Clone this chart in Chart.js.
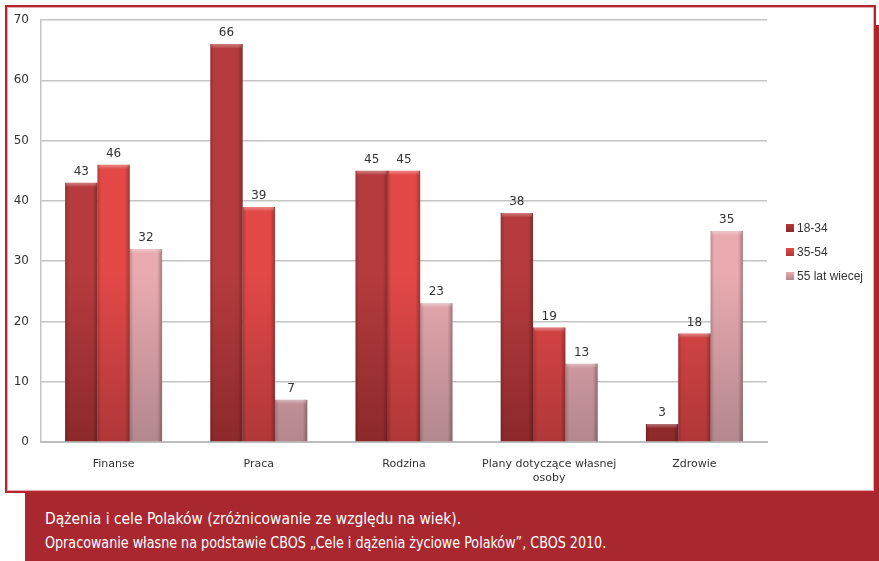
<!DOCTYPE html>
<html lang="pl">
<head>
<meta charset="utf-8">
<script src="https://cdn.jsdelivr.net/npm/chart.js@4.4.1/dist/chart.umd.min.js"></script>
<style>
  html, body { margin: 0; padding: 0; background: #ffffff; }
  body { width: 879px; height: 561px; position: relative; overflow: hidden; }
  #frame {
    position: absolute; left: 5px; top: 5px; width: 867px; height: 484px;
    border: 2px solid #b3262d; box-shadow: inset 0 0 0 1px #e3a9ac;
  }
  #edge { position: absolute; left: 875px; top: 25px; width: 4px; height: 470px; background: #a9262c; }
  #caption {
    position: absolute; left: 25px; top: 493px; width: 854px; height: 68px;
    background: #a9282f; color: #ffffff;
    font-family: "DejaVu Sans Condensed", "Liberation Sans Narrow", sans-serif;
    font-size: 16px; line-height: 24px; padding: 14px 0 0 20px; box-sizing: border-box;
    white-space: nowrap;
  }
  #caption span { display: inline-block; transform-origin: 0 50%; }
  #wrap { position: absolute; left: 0; top: 0; width: 879px; height: 561px; }
</style>
</head>
<body>
<div id="frame"></div>
<div id="edge"></div>
<div id="caption"><span style="transform: scaleX(0.965)">Dążenia i cele Polaków (zróżnicowanie ze względu na wiek).</span><br><span style="transform: scaleX(0.885)">Opracowanie własne na podstawie CBOS „Cele i dążenia życiowe Polaków”, CBOS 2010.</span></div>
<div id="wrap"><canvas id="chart" width="879" height="561"></canvas></div>
<script>
// Goals of Poles by age group (percent)
const categories = ["Finanse", "Praca", "Rodzina", ["Plany dotyczące własnej", "osoby"], "Zdrowie"];
const seriesNames = ["18-34", "35-54", "55 lat wiecej"];
const age18to34 = [43, 66, 45, 38, 3];
const age35to54 = [46, 39, 45, 19, 18];
const age55plus = [32, 7, 23, 13, 35];
const yTicks = [0, 10, 20, 30, 40, 50, 60, 70];

// top / bottom shades of each series
const shades = [
  ["#b53b3e", "#8c292b"],
  ["#e24947", "#b03739"],
  ["#e9abaf", "#b3878e"]
];

function verticalFill(i) {
  return (ctx) => {
    const area = ctx.chart.chartArea;
    if (!area) return shades[i][0];
    const g = ctx.chart.ctx.createLinearGradient(0, area.top, 0, area.bottom);
    g.addColorStop(0, shades[i][0]);
    g.addColorStop(0.6, shades[i][0]);
    g.addColorStop(1, shades[i][1]);
    return g;
  };
}

// bevel shading on each bar: darker sides, light top strip
const bevel = {
  id: "bevel",
  afterDatasetsDraw(chart) {
    const c = chart.ctx;
    chart.data.datasets.forEach((ds, di) => {
      chart.getDatasetMeta(di).data.forEach((bar) => {
        const { x, y, base, width } = bar.getProps(["x", "y", "base", "width"], true);
        const l = x - width / 2, r = x + width / 2, h = base - y;
        c.save();
        const g = c.createLinearGradient(l, 0, r, 0);
        g.addColorStop(0, "rgba(0,0,0,0.18)");
        g.addColorStop(0.12, "rgba(0,0,0,0.0)");
        g.addColorStop(0.85, "rgba(0,0,0,0.0)");
        g.addColorStop(1, "rgba(0,0,0,0.28)");
        c.fillStyle = g;
        c.fillRect(l, y, width, h);
        const t = Math.min(4, h);
        const tg = c.createLinearGradient(0, y, 0, y + t);
        tg.addColorStop(0, "rgba(255,255,255,0.35)");
        tg.addColorStop(1, "rgba(255,255,255,0.05)");
        c.fillStyle = tg;
        c.fillRect(l + 1, y, width - 2, t);
        c.restore();
      });
    });
  }
};

// value labels above the bars
const valueLabels = {
  id: "valueLabels",
  afterDatasetsDraw(chart) {
    const c = chart.ctx;
    c.save();
    c.font = "12px 'DejaVu Sans', sans-serif";
    c.fillStyle = "#333333";
    c.textAlign = "center";
    c.textBaseline = "bottom";
    chart.data.datasets.forEach((ds, di) => {
      chart.getDatasetMeta(di).data.forEach((bar, i) => {
        c.fillText(String(ds.data[i]), bar.x, bar.y - 5);
      });
    });
    c.restore();
  }
};

// legend at the right side
const sideLegend = {
  id: "sideLegend",
  afterDraw(chart) {
    const c = chart.ctx;
    c.save();
    c.font = "12px 'Liberation Sans', sans-serif";
    c.textBaseline = "middle";
    chart.data.datasets.forEach((ds, i) => {
      const yy = 228 + i * 24;
      const g = c.createLinearGradient(0, yy - 4, 0, yy + 4);
      g.addColorStop(0, shades[i][0]);
      g.addColorStop(1, shades[i][1]);
      c.fillStyle = g;
      c.fillRect(786, yy - 4, 8, 8);
      c.fillStyle = "#333333";
      c.fillText(ds.label, 797, yy + 1);
    });
    c.restore();
  }
};

new Chart(document.getElementById("chart"), {
  type: "bar",
  data: {
    labels: categories,
    datasets: [
      { label: seriesNames[0], data: age18to34, backgroundColor: verticalFill(0), borderWidth: 0 },
      { label: seriesNames[1], data: age35to54, backgroundColor: verticalFill(1), borderWidth: 0 },
      { label: seriesNames[2], data: age55plus, backgroundColor: verticalFill(2), borderWidth: 0 }
    ]
  },
  options: {
    responsive: false,
    animation: false,
    layout: { padding: { left: 0, top: 20, right: 112, bottom: 69 } },
    plugins: { legend: { display: false }, tooltip: { enabled: false } },
    datasets: { bar: { categoryPercentage: 0.668, barPercentage: 1.0 } },
    scales: {
      x: {
        grid: { display: false, drawTicks: false },
        border: { color: "#bdbdbd", width: 2 },
        ticks: { color: "#333333", font: { family: "'DejaVu Sans', sans-serif", size: 11 }, padding: 16, maxRotation: 0, autoSkip: false },
        afterFit(s) { s.height = 50; }
      },
      y: {
        min: 0, max: 70,
        afterBuildTicks(s) { s.ticks = yTicks.map(v => ({ value: v })); },
        grid: { color: "#c4c4c4", lineWidth: 1.5, drawTicks: false },
        border: { color: "#c4c4c4", width: 1.5 },
        ticks: { color: "#333333", font: { family: "'DejaVu Sans', sans-serif", size: 12 }, padding: 12 },
        afterFit(s) { s.width = 41; }
      }
    }
  },
  plugins: [bevel, valueLabels, sideLegend]
});
</script>
</body>
</html>
